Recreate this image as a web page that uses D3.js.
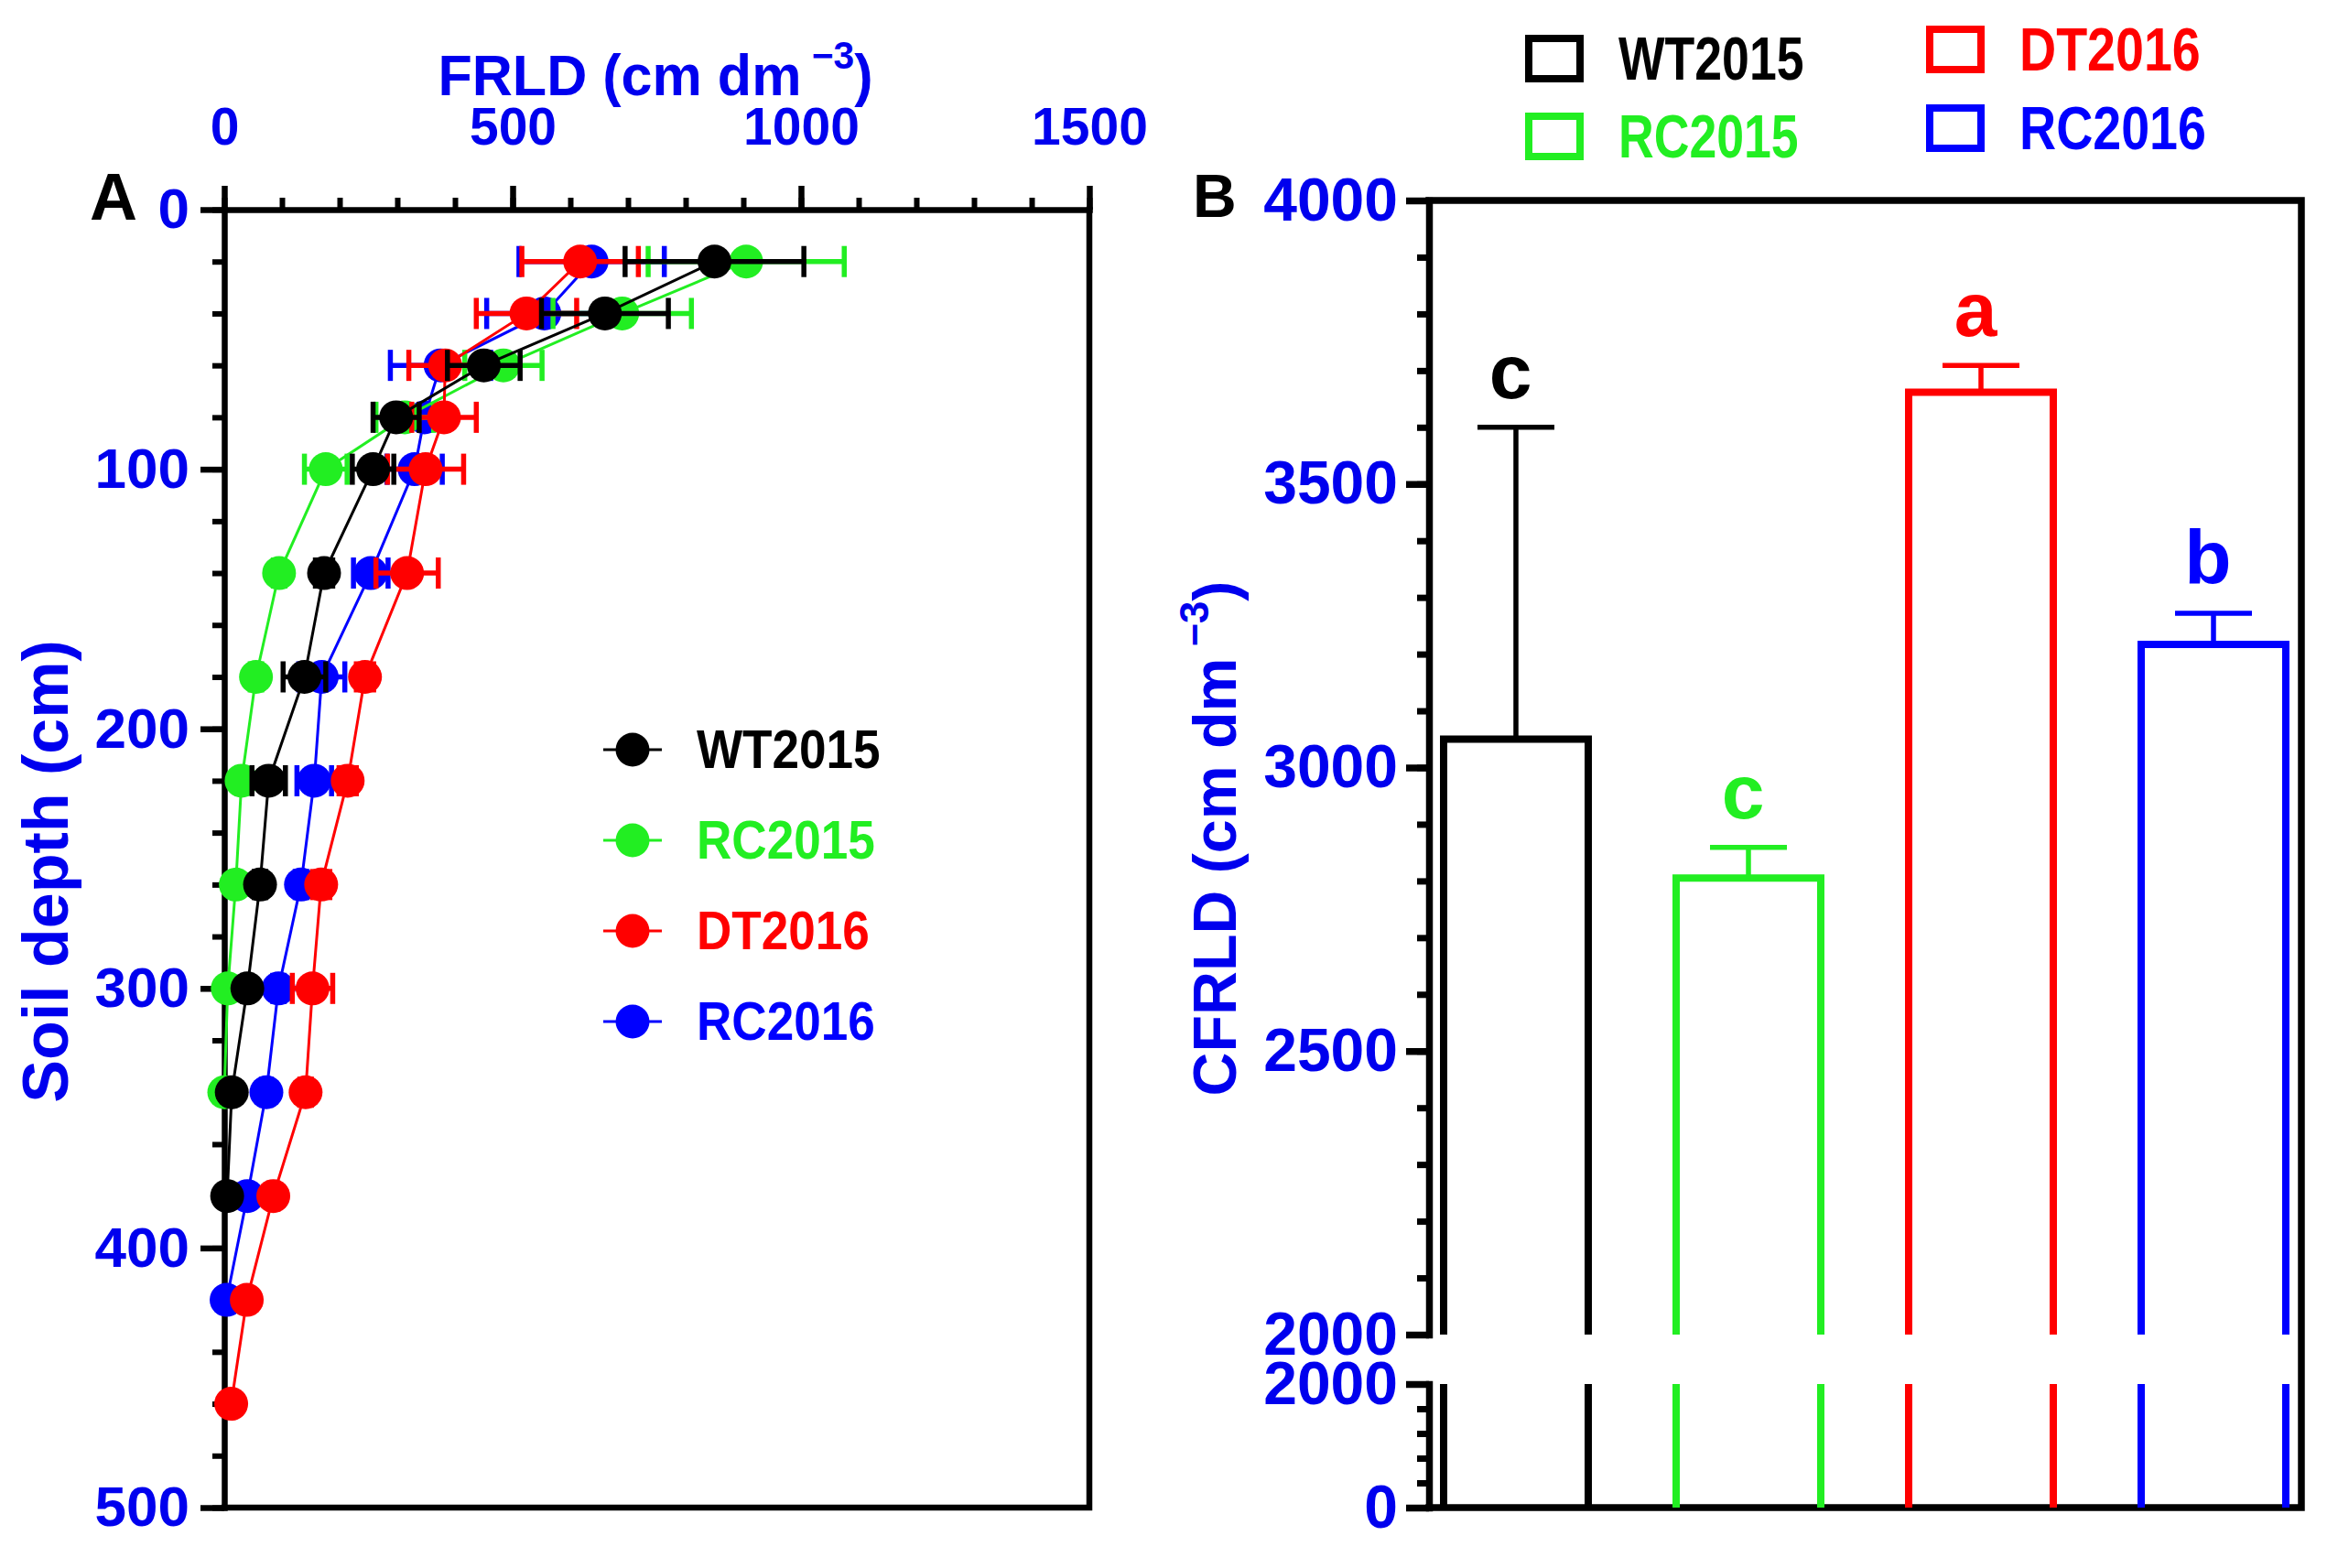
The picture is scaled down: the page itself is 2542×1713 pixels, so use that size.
<!DOCTYPE html>
<html>
<head>
<meta charset="utf-8">
<script src="https://cdn.jsdelivr.net/npm/d3@7"></script>
<style>
  body { margin: 0; background: #fff; }
  svg text { font-family: "Liberation Sans", Arial, sans-serif; font-weight: bold; }
</style>
</head>
<body>
<script>
// ---- data ----
var depths = [20, 40, 60, 80, 100, 140, 180, 220, 260, 300, 340, 380, 420, 460]
var seriesNames = ['WT2015', 'RC2015', 'DT2016', 'RC2016']
var seriesColors = ['#000000', '#22ee22', '#ff0000', '#0000ff']

var wt2015 = [850, 660, 450, 298, 258, 173, 139, 77, 62, 40, 13, 5]
var wt2015Sd = [155, 110, 63, 40, 36, 15, 37, 29, 10, 8, 5, 3]
var rc2015 = [905, 690, 484, 313, 176, 95, 55, 30, 20, 6, 0]
var rc2015Sd = [170, 120, 67, 50, 37, 10, 10, 8, 5, 5, 3]
var dt2016 = [617, 524, 383, 381, 349, 317, 244, 214, 168, 153, 141, 85, 39, 12]
var dt2016Sd = [101, 87, 63, 56, 66, 54, 15, 15, 15, 35, 10, 8, 5, 3]
var rc2016 = [637, 555, 375, 347, 330, 254, 169, 156, 133, 94, 73, 40, 4]
var rc2016Sd = [126, 100, 87, 40, 48, 30, 40, 30, 10, 10, 8, 5, 3]

var xTicksA = [0, 500, 1000, 1500]
var yTicksA = [0, 100, 200, 300, 400, 500]

var cfrld = [3050, 2805, 3662, 3217]
var cfrldSd = [550, 54, 47, 55]
var letters = ['c', 'c', 'a', 'b']
var yTicksBUpper = [2000, 2500, 3000, 3500, 4000]
var yTicksBLower = [0, 2000]

// ---- layout ----
var W = 2542, H = 1713
var blue = '#0000ee'
var A = { left: 245, right: 1190, top: 229, bottom: 1647 }
var B = { left: 1561, right: 2514, top: 219, breakHi: 1458, breakLo: 1512, bottom: 1647 }
var fmt = d3.format('d')

var svg = d3.select('body').append('svg')
  .attr('width', W)
  .attr('height', H)

// squeezed text (the figure's fonts are horizontally condensed)
function squeezed(parent, tx, ty, sx, rot) {
  return parent.append('g')
    .attr('transform', 'translate(' + tx + ',' + ty + ')' + (rot ? ' rotate(' + rot + ')' : '') + ' scale(' + sx + ',1)')
    .append('text')
}

function styleAxis(g, width, fontSize) {
  g.attr('font-size', fontSize)
  g.selectAll('path.domain').attr('stroke', '#000').attr('stroke-width', width).attr('stroke-linecap', 'square')
  g.selectAll('line').attr('stroke', '#000').attr('stroke-width', width)
  g.selectAll('text').attr('fill', blue).style('font-size', fontSize + 'px')
}

// ================= Panel A =================
var x = d3.scaleLinear().domain([0, 1500]).range([A.left, A.right])
var y = d3.scaleLinear().domain([0, 500]).range([A.top, A.bottom])

// minor ticks
svg.append('g').attr('transform', 'translate(0,' + A.top + ')')
  .call(d3.axisTop(x).tickValues(d3.range(0, 1501, 100)).tickSize(13).tickFormat(''))
  .call(function(g) { g.select('.domain').remove(); styleAxis(g, 6, 57) })
svg.append('g').attr('transform', 'translate(' + A.left + ',0)')
  .call(d3.axisLeft(y).tickValues(d3.range(0, 501, 20)).tickSize(13).tickFormat(''))
  .call(function(g) { g.select('.domain').remove(); styleAxis(g, 6, 62) })

// major ticks with labels
svg.append('g').attr('transform', 'translate(0,' + A.top + ')')
  .call(d3.axisTop(x).tickValues(xTicksA).tickFormat(fmt).tickSize(26).tickSizeOuter(0).tickPadding(45))
  .call(function(g) { styleAxis(g, 6.5, 57); g.selectAll('text').attr('dy', 0) })
svg.append('g').attr('transform', 'translate(' + A.left + ',0)')
  .call(d3.axisLeft(y).tickValues(yTicksA).tickFormat(fmt).tickSize(26).tickSizeOuter(0).tickPadding(12))
  .call(function(g) { styleAxis(g, 6.5, 62) })

// frame right / bottom
svg.append('path')
  .attr('d', 'M' + A.right + ',' + A.top + 'V' + A.bottom + 'H' + A.left)
  .attr('fill', 'none').attr('stroke', '#000').attr('stroke-width', 6.5).attr('stroke-linecap', 'square')

// series
var seriesData = [
  { name: seriesNames[0], color: seriesColors[0], values: wt2015, sd: wt2015Sd },
  { name: seriesNames[1], color: seriesColors[1], values: rc2015, sd: rc2015Sd },
  { name: seriesNames[2], color: seriesColors[2], values: dt2016, sd: dt2016Sd },
  { name: seriesNames[3], color: seriesColors[3], values: rc2016, sd: rc2016Sd }
]
seriesData.forEach(function(s) {
  s.points = s.values.map(function(v, j) { return { depth: depths[j], v: v, sd: s.sd[j] } })
})

var line = d3.line().x(function(d) { return x(d.v) }).y(function(d) { return y(d.depth) })
var drawOrder = [3, 1, 2, 0]
var capH = 17

drawOrder.forEach(function(k) {
  var s = seriesData[k]
  var g = svg.append('g').attr('class', 'series')

  g.append('path').datum(s.points)
    .attr('d', line)
    .attr('fill', 'none')
    .attr('stroke', s.color)
    .attr('stroke-width', 3)

  var eb = g.selectAll('g.err').data(s.points).enter().append('g').attr('class', 'err')
  eb.append('line')
    .attr('x1', function(d) { return x(d.v - d.sd) })
    .attr('x2', function(d) { return x(d.v + d.sd) })
    .attr('y1', function(d) { return y(d.depth) })
    .attr('y2', function(d) { return y(d.depth) })
    .attr('stroke', s.color).attr('stroke-width', 5.5)
  ;[-1, 1].forEach(function(side) {
    eb.append('line')
      .attr('x1', function(d) { return x(d.v + side * d.sd) })
      .attr('x2', function(d) { return x(d.v + side * d.sd) })
      .attr('y1', function(d) { return y(d.depth) - capH })
      .attr('y2', function(d) { return y(d.depth) + capH })
      .attr('stroke', s.color).attr('stroke-width', 5.5)
  })

  g.selectAll('circle').data(s.points).enter().append('circle')
    .attr('cx', function(d) { return x(d.v) })
    .attr('cy', function(d) { return y(d.depth) })
    .attr('r', 18.5)
    .attr('fill', s.color)
})

// legend A
var legA = svg.append('g').attr('transform', 'translate(691,819)')
seriesData.forEach(function(s, i) {
  var row = legA.append('g').attr('transform', 'translate(0,' + (i * 99) + ')')
  row.append('line').attr('x1', -32).attr('x2', 32).attr('stroke', s.color).attr('stroke-width', 3)
  row.append('circle').attr('r', 18.5).attr('fill', s.color)
  squeezed(row, 70, 20, 0.9).attr('font-size', 59).attr('fill', s.color).text(s.name)
})

// titles A
var tA = squeezed(svg, 716, 104, 0.97).attr('text-anchor', 'middle').attr('font-size', 63).attr('fill', blue)
tA.append('tspan').text('FRLD (cm dm')
tA.append('tspan').attr('dy', -29).attr('font-size', 42).text(' \u22123')
tA.append('tspan').attr('dy', 29).text(')')

squeezed(svg, 74, 952, 1, -90).attr('text-anchor', 'middle').attr('font-size', 70).attr('fill', blue)
  .text('Soil depth (cm)')

svg.append('text').attr('x', 98).attr('y', 240).attr('font-size', 72).attr('fill', '#000').text('A')

// ================= Panel B =================
var xb = d3.scaleBand().domain(seriesNames).range([1577, 2497]).paddingInner(0.378).paddingOuter(0)
var yHi = d3.scaleLinear().domain([2000, 4000]).range([B.breakHi, B.top])
var yLo = d3.scaleLinear().domain([0, 2000]).range([B.bottom, B.breakLo])

svg.append('g').attr('transform', 'translate(' + B.left + ',0)')
  .call(d3.axisLeft(yHi).tickValues(d3.range(2000, 4001, 100)).tickSize(13).tickFormat(''))
  .call(function(g) { g.select('.domain').remove(); styleAxis(g, 7, 66) })
svg.append('g').attr('transform', 'translate(' + B.left + ',0)')
  .call(d3.axisLeft(yLo).tickValues(d3.range(0, 2001, 400)).tickSize(13).tickFormat(''))
  .call(function(g) { g.select('.domain').remove(); styleAxis(g, 7, 66) })
svg.append('g').attr('transform', 'translate(' + B.left + ',0)')
  .call(d3.axisLeft(yHi).tickValues(yTicksBUpper).tickFormat(fmt).tickSize(25).tickSizeOuter(0).tickPadding(9))
  .call(function(g) { styleAxis(g, 7.5, 66) })
svg.append('g').attr('transform', 'translate(' + B.left + ',0)')
  .call(d3.axisLeft(yLo).tickValues(yTicksBLower).tickFormat(fmt).tickSize(25).tickSizeOuter(0).tickPadding(9))
  .call(function(g) { styleAxis(g, 7.5, 66) })

// frame top / right / bottom
svg.append('path')
  .attr('d', 'M' + B.left + ',' + B.top + 'H' + B.right + 'V' + B.bottom + 'H' + B.left)
  .attr('fill', 'none').attr('stroke', '#000').attr('stroke-width', 7.5).attr('stroke-linecap', 'square')

// bars (outline only, broken at the axis break)
var bars = svg.selectAll('g.bar').data(cfrld).enter().append('g').attr('class', 'bar')
bars.append('path')
  .attr('d', function(d, i) {
    var l = xb(seriesNames[i]), r = l + xb.bandwidth()
    return 'M' + l + ',' + B.breakHi + 'V' + yHi(d) + 'H' + r + 'V' + B.breakHi +
      'M' + l + ',' + B.breakLo + 'V' + B.bottom + 'M' + r + ',' + B.breakLo + 'V' + B.bottom
  })
  .attr('fill', 'none')
  .attr('stroke', function(d, i) { return seriesColors[i] })
  .attr('stroke-width', 8)

bars.append('path')
  .attr('d', function(d, i) {
    var c = xb(seriesNames[i]) + xb.bandwidth() / 2
    var t = yHi(d + cfrldSd[i])
    return 'M' + c + ',' + yHi(d) + 'V' + t + 'M' + (c - 42) + ',' + t + 'H' + (c + 42)
  })
  .attr('fill', 'none')
  .attr('stroke', function(d, i) { return seriesColors[i] })
  .attr('stroke-width', 5.5)

bars.append('text')
  .attr('x', function(d, i) { return xb(seriesNames[i]) + xb.bandwidth() / 2 - 6 })
  .attr('y', function(d, i) { return yHi(d + cfrldSd[i]) - 32 })
  .attr('text-anchor', 'middle')
  .attr('font-size', 84)
  .attr('fill', function(d, i) { return seriesColors[i] })
  .text(function(d, i) { return letters[i] })

// legend B (2 x 2)
var legBCols = [1670, 2108]
var legBRows = [[42, 127], [32, 118]]
var legBOrder = [[0, 1], [2, 3]]
legBOrder.forEach(function(col, ci) {
  col.forEach(function(k, ri) {
    var g = svg.append('g').attr('transform', 'translate(' + legBCols[ci] + ',' + legBRows[ci][ri] + ')')
    g.append('rect').attr('width', 56).attr('height', 44)
      .attr('fill', 'none').attr('stroke', seriesColors[k]).attr('stroke-width', 8)
    squeezed(g, 98, 45, ci === 0 ? 0.8 : 0.83).attr('font-size', 67).attr('fill', seriesColors[k]).text(seriesNames[k])
  })
})

var tB = squeezed(svg, 1350, 916, 0.99, -90).attr('text-anchor', 'middle').attr('font-size', 67).attr('fill', blue)
tB.append('tspan').text('CFRLD (cm dm')
tB.append('tspan').attr('dy', -30).attr('font-size', 44).text(' \u22123')
tB.append('tspan').attr('dy', 30).text(')')

svg.append('text').attr('x', 1303).attr('y', 237).attr('font-size', 66).attr('fill', '#000').text('B')
</script>
</body>
</html>
